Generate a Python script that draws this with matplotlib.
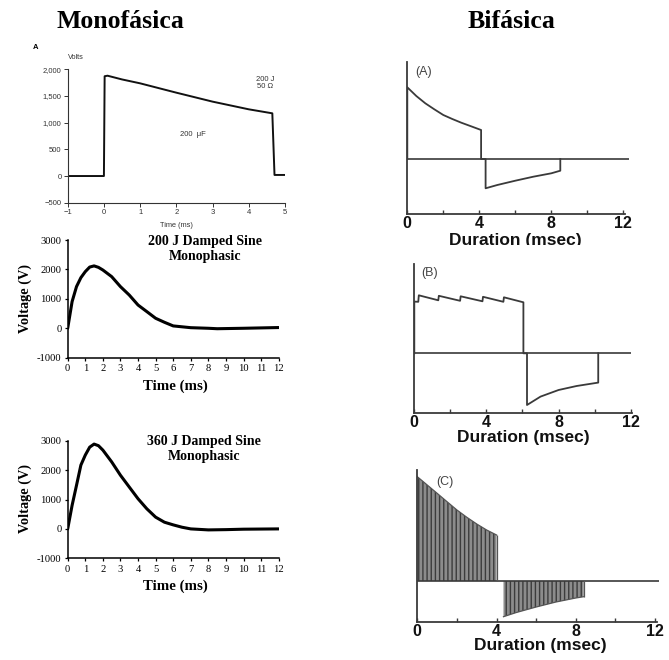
import matplotlib
matplotlib.use('Agg')
import matplotlib.pyplot as plt
from matplotlib.transforms import Bbox, TransformedBbox

SERIF = 'Liberation Serif'
SANS = 'Liberation Sans'

# --- Monofasica: truncated exponential (200 J, 50 ohm, 200 uF)
trunc_t = [-1, 0, 0.02, 0.1, 0.5, 1, 2, 3, 4, 4.65, 4.71, 5]
trunc_v = [0, 0, 1870, 1880, 1810, 1737, 1562, 1394, 1250, 1175, 20, 20]

# --- Monofasica: damped sine 200 J
ds200_t = [0, 0.25, 0.5, 0.75, 1, 1.25, 1.5, 1.75, 2, 2.5, 3, 3.5, 4, 4.5, 5, 5.5, 6, 7, 8, 8.5, 10, 12]
ds200_v = [0, 906, 1415, 1720, 1925, 2080, 2120, 2070, 1980, 1755, 1415, 1130, 790, 566, 340, 204, 80, 20, 0, -15, 0, 25]

# --- Monofasica: damped sine 360 J
ds360_t = [0, 0.25, 0.5, 0.75, 1, 1.25, 1.5, 1.75, 2, 2.5, 3, 3.5, 4, 4.5, 5, 5.5, 6, 6.5, 7, 8, 9, 10, 12]
ds360_v = [0, 800, 1480, 2170, 2510, 2780, 2885, 2830, 2680, 2280, 1825, 1425, 1026, 684, 400, 228, 137, 57, 0, -34, -25, -10, 0]

# --- Bifasica (A): biphasic truncated exponential (arbitrary units)
bia_t = [0, 0, 0.5, 1, 1.5, 2, 2.5, 3, 3.5, 4.1, 4.1, 4.35, 4.35, 5, 6, 7, 8, 8.5, 8.5]
bia_v = [0, 71.7, 63, 55.7, 49.7, 44, 40, 36.3, 33, 29, 0, 0, -29.3, -26, -21.7, -17.7, -14.3, -11.7, 0]

# --- Bifasica (B): rectilinear biphasic
bib_t = [0, 0, 0.22, 0.25, 1.33, 1.36, 2.54, 2.57, 3.78, 3.81, 4.94, 4.97, 6.05, 6.05,
         6.25, 6.25, 7, 8, 9, 10.2, 10.2]
bib_v = [0, 51.7, 51.5, 58, 53, 57.5, 52.5, 57, 52, 56.5, 51.5, 56, 51, 0,
         0, -51.7, -43.3, -36.7, -32.7, -29.3, 0]

# --- Bifasica (C): pulsed biphasic envelope
bic_pos_t = [0, 0.5, 1, 1.5, 2, 2.5, 3, 3.5, 4]
bic_pos_v = [104.3, 96, 87.7, 79.3, 71, 63.7, 57, 51, 46]
bic_neg_t = [4.35, 5, 6, 7, 8, 8.4]
bic_neg_v = [-35.7, -31.5, -26, -21, -17, -15.7]

dur_ticks = [0, 2, 4, 6, 8, 10, 12]
dur_labels = ['0', '', '4', '', '8', '', '12']

W, H = 669, 660
fig = plt.figure(figsize=(W / 100, H / 100), dpi=100)


def box(x0, y_top, x1, y_bot):
    # pixel box (from top-left) -> figure fraction
    return [x0 / W, 1 - y_bot / H, (x1 - x0) / W, (y_bot - y_top) / H]


fig.text(120.5 / W, 1 - 28.5 / H, 'Monofásica', family=SERIF, weight='bold',
         fontsize=18.5, ha='center', va='baseline')
fig.text(511.7 / W, 1 - 28.5 / H, 'Bifásica', family=SERIF, weight='bold',
         fontsize=18.5, ha='center', va='baseline')

# ---------- panel 1: truncated exponential ----------
ax1 = fig.add_axes(box(67.7, 69.3, 285, 202.7))
ax1.plot(trunc_t, trunc_v, color='#111', lw=1.4)
ax1.set_xlim(-1, 5)
ax1.set_ylim(-500, 2000)
ax1.set_xticks(range(-1, 6))
ax1.set_xticklabels(['\u22121', '0', '1', '2', '3', '4', '5'])
ax1.set_yticks([-500, 0, 500, 1000, 1500, 2000])
ax1.set_yticklabels(['\u2212500', '0', '500', '1,000', '1,500', '2,000'])
for s in ['top', 'right']:
    ax1.spines[s].set_visible(False)
for s in ['left', 'bottom']:
    ax1.spines[s].set_linewidth(0.8)
    ax1.spines[s].set_color('#333')
ax1.tick_params(direction='out', length=3, width=0.7, pad=1.5, labelsize=5.5,
                colors='#333')
for lab in ax1.get_xticklabels() + ax1.get_yticklabels():
    lab.set_family(SANS)
ax1.text(-0.146, 1.167, 'A', transform=ax1.transAxes, family=SANS, weight='bold',
         fontsize=5.5, ha='center', va='center')
ax1.text(0.038, 1.092, 'Volts', transform=ax1.transAxes, family=SANS,
         fontsize=5.3, ha='center', va='center', color='#333')
ax1.text(4.45, 1752, '200 J\n50 \u03a9', family=SANS, fontsize=5.5,
         ha='center', va='center', color='#333', linespacing=1.0)
ax1.text(2.46, 787, '200  \u03bcF', family=SANS, fontsize=5.5,
         ha='center', va='center', color='#333')
ax1.text(0.5, -0.172, 'Time (ms)', transform=ax1.transAxes, family=SANS,
         fontsize=5.3, ha='center', va='center', color='#333')

# ---------- panels 2 & 3: damped sine ----------
volt_ticks = [-1000, 0, 1000, 2000, 3000]
volt_labels = ['-1000', '0', '1000', '2000', '3000']


def damped_panel(rect, t, v, title, title_xy, xlab_y, ylab_y):
    ax = fig.add_axes(rect)
    ax.plot(t, v, color='black', lw=2.2, solid_capstyle='round')
    ax.set_xlim(0, 12)
    ax.set_ylim(-1000, 3000)
    ax.set_xticks(range(0, 13))
    ax.set_yticks(volt_ticks)
    ax.set_yticklabels(volt_labels)
    for s in ['top', 'right']:
        ax.spines[s].set_visible(False)
    for s in ['left', 'bottom']:
        ax.spines[s].set_linewidth(1.1)
    ax.tick_params(direction='out', length=2.5, width=0.9, pad=2, labelsize=7.6)
    for lab in ax.get_xticklabels() + ax.get_yticklabels():
        lab.set_family(SERIF)
    ax.text(title_xy[0], title_xy[1], title, transform=ax.transAxes, family=SERIF,
            weight='bold', fontsize=10, ha='center', va='center', linespacing=1.25)
    ax.text(0.508, xlab_y, 'Time (ms)', transform=ax.transAxes, family=SERIF,
            weight='bold', fontsize=10.7, ha='center', va='center')
    ax.text(-0.202, ylab_y, 'Voltage (V)', transform=ax.transAxes, family=SERIF,
            weight='bold', fontsize=10.3, ha='center', va='center', rotation=90)
    return ax


damped_panel(box(67.7, 240, 278.7, 357.7), ds200_t, ds200_v,
             '200 J Damped Sine\nMonophasic', (0.65, 0.924), -0.246, 0.507)
damped_panel(box(67.7, 440.7, 278.7, 558.3), ds360_t, ds360_v,
             '360 J Damped Sine\nMonophasic', (0.647, 0.93), -0.241, 0.51)

# ---------- right panels: biphasic ----------
GREY = '#3a3a3a'


def biphasic_axes(rect, ylim, xmax, zero_end, label, label_xy, xlab_y, xlab_x):
    ax = fig.add_axes(rect)
    ax.set_xlim(0, xmax)
    ax.set_ylim(*ylim)
    ax.hlines(0, 0, zero_end, color=GREY, lw=1.2)
    for s in ['top', 'right']:
        ax.spines[s].set_visible(False)
    for s in ['left', 'bottom']:
        ax.spines[s].set_linewidth(1.3)
        ax.spines[s].set_color(GREY)
    ax.spines['bottom'].set_bounds(0, 12.1)
    ax.set_yticks([])
    ax.set_xticks(dur_ticks)
    ax.set_xticklabels(dur_labels)
    ax.tick_params(axis='x', direction='in', length=3, width=1, colors=GREY,
                   labelcolor='#111', pad=1.5, labelsize=11.5)
    for lab in ax.get_xticklabels():
        lab.set_family(SANS)
        lab.set_weight('bold')
    ax.text(label_xy[0], label_xy[1], label, transform=ax.transAxes, family=SANS,
            fontsize=9, color='#444', ha='center', va='center')
    xl = ax.text(xlab_x, xlab_y, 'Duration (msec)', transform=ax.transAxes,
                 family=SANS, weight='bold', fontsize=12.5, ha='center',
                 va='center', color='#111')
    return ax, xl


axA, xlA = biphasic_axes(box(407.3, 61.7, 628.7, 214), (-55, 97.3), 12.3, 12.3,
                         '(A)', (0.072, 0.934), -0.171, 0.49)
axA.plot(bia_t, bia_v, color=GREY, lw=1.3)
# the label of panel A is cut by panel B in the reference
xlA.set_clip_box(TransformedBbox(Bbox([[0.55, 1 - 245 / H], [1, 1]]), fig.transFigure))
xlA.set_clip_on(True)

axB, _ = biphasic_axes(box(414.3, 264, 634.3, 412.7), (-59.4, 89.3), 12.2, 12.0,
                       '(B)', (0.071, 0.941), -0.165, 0.494)
axB.plot(bib_t, bib_v, color=GREY, lw=1.3)

axC, _ = biphasic_axes(box(417.3, 470, 659, 621.7), (-40.7, 111), 12.2, 12.2,
                       '(C)', (0.115, 0.923), -0.154, 0.508)
for tt, vv in [(bic_pos_t, bic_pos_v), (bic_neg_t, bic_neg_v)]:
    axC.fill_between(tt, 0, vv, facecolor='#8c8c8c', edgecolor='#3c3c3c',
                     hatch='||||', linewidth=0)
    axC.plot(tt, vv, color='#555', lw=0.9)
    axC.vlines([tt[-1]], 0, vv[-1], color='#555', lw=0.9)

fig.savefig('out.png', dpi=100)
